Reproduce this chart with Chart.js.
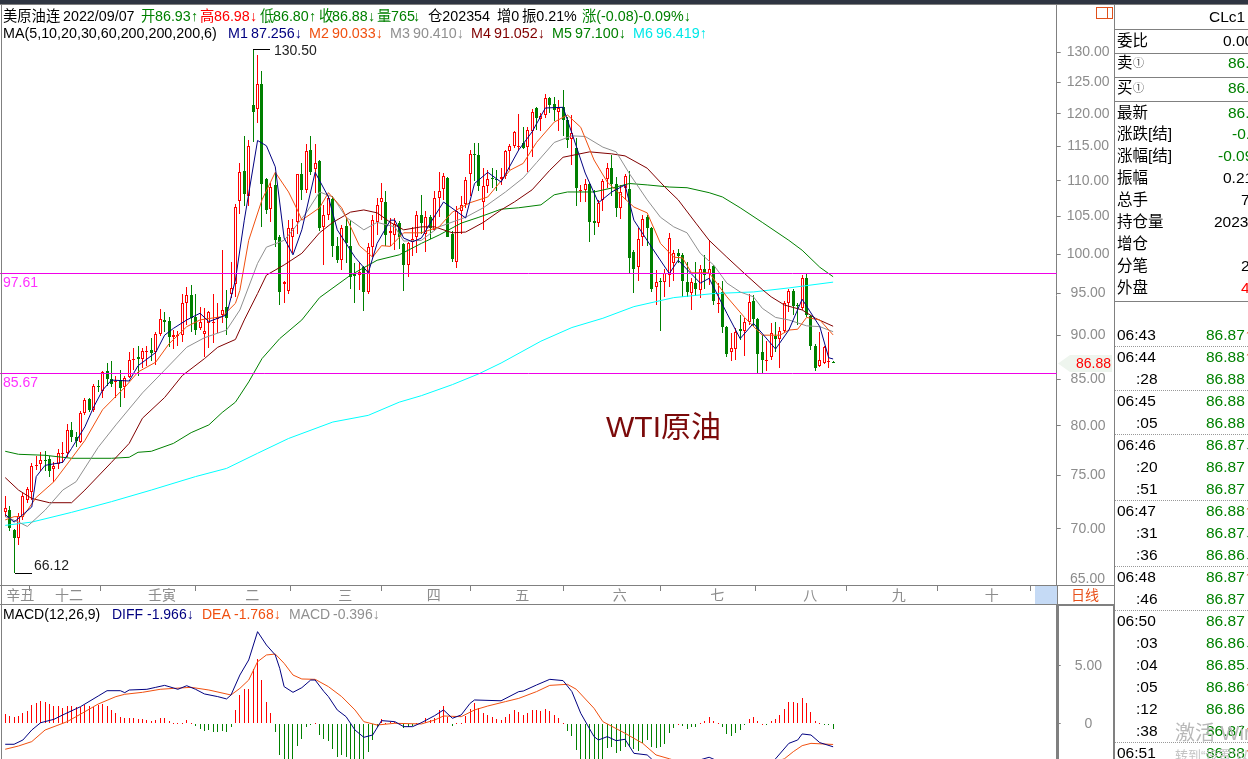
<!DOCTYPE html>
<html>
<head>
<meta charset="utf-8">
<title>WTI原油</title>
<script src="https://cdn.jsdelivr.net/npm/chart.js@4/dist/chart.umd.min.js"></script>
<style>
html,body{margin:0;padding:0;background:#fff;width:1248px;height:759px;overflow:hidden;font-family:"Liberation Sans","Noto Sans CJK SC",sans-serif;}
canvas{position:absolute;left:0;}
#main{top:5px;}
#macd{top:605px;}
.t{position:absolute;white-space:pre;line-height:1;transform:translateY(-50%);}
.r{position:absolute;}
</style>
</head>
<body>
<canvas id="main" width="1114" height="600"></canvas>
<canvas id="macd" width="1114" height="154"></canvas>
<div id="over"></div>
<script>
// 日线 K线,读图估值
const opens = [
71.5,71.7,69.9,69.2,71.1,72.7,73.4,75.9,76.1,76.5,
76.6,75.6,76.1,77.1,77.2,79.6,78.9,78.3,81.3,82.8,
81.7,84.2,83.7,85.9,85.0,84.7,84.9,84.1,85.2,87.2,
87.5,87.3,88.1,88.3,88.0,90.1,91.8,91.7,89.8,89.9,
90.0,93.9,94.8,92.2,90.8,90.1,91.4,91.4,91.9,92.4,
93.4,95.0,96.2,107.2,111.4,107.8,121.3,120.8,124.8,110.3,
106.0,109.4,102.2,96.2,95.3,102.2,104.3,110.9,108.7,114.5,
111.7,112.9,103.6,105.2,107.4,101.1,99.2,103.7,101.1,97.4,
97.3,98.3,95.2,100.9,104.3,107.0,107.0,102.8,102.5,104.1,
101.3,98.6,101.6,102.2,105.2,102.7,105.0,103.2,107.5,108.8,
110.4,102.7,99.0,105.7,106.7,111.0,113.9,113.8,107.0,109.3,
110.4,110.3,110.2,110.7,114.3,115.1,115.0,115.5,114.9,117.4,
120.9,119.2,119.8,122.4,121.5,120.3,121.0,119.0,116.1,114.8,
108.6,108.7,109.5,104.4,104.1,107.3,110.3,111.8,109.6,106.1,
108.9,108.8,100.3,98.3,102.3,105.0,103.4,95.8,96.6,96.4,
97.3,98.8,100.2,99.9,96.4,95.1,96.3,95.5,98.1,97.4,
98.5,93.7,95.2,91.0,88.1,88.4,90.7,90.5,91.6,94.1,
91.9,88.0,87.0,87.5,89.9,89.6,90.5,93.8,95.3,93.6,
93.2,96.9,92.3,88.8,86.5,86.8,86.9,86.93];
const highs = [
73.0,72.1,70.0,71.4,73.3,73.9,76.2,76.9,77.3,77.4,
76.9,76.3,77.6,78.3,80.2,80.4,79.4,81.6,83.0,83.0,
84.5,84.9,85.9,86.8,87.0,85.4,86.0,85.4,88.0,88.5,
88.8,88.5,88.7,89.7,90.4,93.1,92.7,92.2,90.6,90.5,
95.0,95.8,96.0,94.9,93.4,93.2,92.9,94.9,93.8,100.5,
95.4,99.0,106.7,112.5,116.6,115.9,130.5,129.5,126.8,110.4,
109.7,111.3,102.5,96.6,104.5,104.6,111.0,112.5,115.3,116.6,
115.4,113.0,106.6,107.8,107.8,102.2,103.8,105.0,104.5,98.8,
99.0,98.4,101.4,105.2,107.5,109.7,108.5,104.8,104.8,104.4,
101.4,101.6,103.6,105.7,108.0,105.8,105.2,108.6,111.3,111.1,
110.6,103.0,106.5,107.8,110.6,114.5,115.5,115.5,111.8,111.5,
111.8,111.5,111.8,114.5,115.4,117.3,120.0,118.0,118.0,120.8,
121.0,120.1,123.1,122.6,122.7,122.2,123.7,119.5,119.8,116.3,
109.4,110.3,109.7,108.7,107.3,110.3,112.5,113.8,110.6,109.4,
110.9,111.4,100.5,103.4,105.2,105.2,103.6,97.9,96.9,98.1,
102.8,100.5,100.7,100.1,99.0,97.0,99.0,98.6,99.9,101.8,
98.6,96.3,96.6,91.1,90.2,90.8,92.4,92.0,94.9,94.8,
92.0,90.0,89.3,91.4,91.6,91.0,94.1,95.6,95.6,93.8,
97.3,97.6,92.4,89.0,90.4,88.7,90.4,86.98];
const lows = [
71.1,69.8,66.12,68.5,70.8,72.4,72.7,75.5,75.4,75.4,
74.9,74.4,75.6,76.2,76.8,78.3,77.8,78.2,81.1,81.5,
81.5,83.6,83.0,84.3,84.1,82.9,82.0,83.0,85.1,86.0,
85.4,86.3,86.5,87.0,86.6,89.9,90.4,88.6,88.4,88.8,
89.2,91.2,90.4,90.0,90.6,87.5,88.5,89.1,90.3,91.4,
90.0,94.5,94.6,105.4,106.5,106.4,115.6,118.5,103.6,105.4,
104.3,100.9,93.6,93.9,94.9,100.1,102.7,107.3,108.2,110.8,
108.2,103.0,98.6,104.5,99.6,98.8,97.9,98.8,95.6,93.9,
95.4,92.9,95.0,99.6,102.5,104.5,101.1,101.1,100.5,100.7,
95.3,97.1,99.7,100.1,102.7,100.3,102.0,103.0,105.0,107.3,
102.2,99.0,98.2,102.7,106.1,107.8,109.9,108.5,103.2,108.2,
108.9,108.5,109.4,110.2,111.5,114.8,114.5,114.6,111.3,113.5,
117.5,117.3,119.3,120.1,118.8,117.4,116.5,114.8,112.2,106.5,
107.0,107.0,101.6,102.5,103.6,105.7,108.9,107.8,105.0,104.6,
107.3,97.5,95.1,96.6,101.1,101.1,95.2,93.6,90.5,94.6,
95.8,96.6,98.8,94.6,94.6,93.0,94.7,94.4,95.6,96.0,
93.6,92.6,90.2,87.5,87.0,87.1,89.4,87.6,91.2,91.1,
85.7,85.7,85.9,87.1,88.0,86.3,90.2,92.8,92.4,91.2,
93.0,92.1,88.3,85.9,86.4,86.7,86.3,86.80];
const closes = [
71.9,70.1,69.2,71.2,73.0,73.7,75.9,76.0,76.5,76.4,
75.4,75.9,77.2,77.2,79.6,78.9,78.4,81.3,82.7,81.7,
84.2,84.1,85.8,85.0,84.5,84.8,84.0,85.1,87.1,87.3,
87.3,88.2,88.2,87.9,90.1,91.9,91.6,89.8,90.0,90.0,
93.8,94.8,92.0,90.6,91.6,90.5,92.7,91.5,92.2,93.0,
92.0,95.7,106.3,111.3,108.1,115.1,120.3,124.8,109.6,105.9,
109.1,101.9,95.2,96.4,103.5,103.5,110.9,108.7,114.3,111.3,
112.5,103.4,105.2,107.5,101.1,99.2,103.5,101.4,97.1,97.2,
97.7,95.2,100.9,104.5,106.6,107.5,102.5,103.0,104.0,102.3,
98.6,101.5,102.0,105.2,104.1,105.0,103.4,107.5,108.5,110.7,
102.3,99.4,105.7,106.6,110.1,113.9,113.8,109.3,109.3,110.3,
110.3,110.1,110.6,114.4,115.1,117.2,115.1,114.8,117.5,120.3,
119.4,119.7,122.4,121.3,120.6,120.9,119.0,115.9,117.0,108.9,
108.7,109.6,104.3,104.1,106.8,109.9,111.8,109.6,106.1,108.4,
110.7,99.5,98.1,102.0,104.7,103.5,95.6,96.4,96.4,97.6,
102.1,100.2,99.7,96.6,95.2,96.4,95.6,98.1,97.3,98.1,
94.1,93.8,91.0,87.8,88.5,90.4,90.5,91.6,94.0,91.9,
87.8,87.1,87.1,90.2,89.5,90.5,93.8,95.3,93.5,93.5,
96.9,92.4,88.8,86.3,87.2,88.6,87.0,86.88];

// 均线 [K线序号, 价格]
const m1 = [[0,71.3],[2,70.6],[6,72.0],[7,74.9],[9,76.0],[13,76.3],[15,77.7],[18,79.9],[20,82.0],[22,83.8],[24,84.9],[28,84.8],[30,86.5],[34,88.0],[36,90.0],[38,90.8],[41,91.8],[44,92.6],[46,91.6],[50,92.4],[52,96.7],[54,104.5],[57,115.9],[59,115.1],[61,112.0],[63,102.1],[65,99.9],[67,103.2],[70,111.2],[73,107.7],[75,103.2],[79,99.6],[82,97.6],[84,101.4],[87,104.5],[88,104.5],[90,102.1],[92,101.6],[94,102.1],[96,104.1],[99,107.0],[104,104.8],[106,109.6],[109,111.2],[112,109.8],[116,114.5],[119,117.2],[122,120.9],[126,121.0],[128,117.0],[131,111.1],[134,106.9],[137,108.4],[140,109.4],[142,104.5],[146,100.9],[150,97.5],[152,99.2],[157,96.3],[159,96.9],[163,92.6],[166,89.6],[169,91.4],[174,88.4],[177,90.6],[180,94.3],[184,91.0],[186,87.4],[187,87.26]];
const m2 = [[0,70.8],[2,71.1],[4,71.1],[7,72.9],[11,74.4],[15,76.7],[18,78.5],[22,81.7],[27,84.1],[30,85.8],[34,86.9],[37,89.0],[41,91.0],[44,91.8],[49,92.2],[52,93.8],[53,95.4],[55,101.8],[58,107.3],[61,111.2],[64,108.4],[66,105.9],[67,104.5],[71,106.2],[73,108.3],[76,106.2],[80,101.1],[83,99.6],[85,101.1],[87,101.0],[90,102.8],[94,102.8],[98,103.6],[101,105.6],[105,106.9],[109,107.7],[114,111.5],[117,112.5],[120,115.6],[124,118.7],[127,119.8],[130,117.9],[133,113.0],[136,109.8],[139,108.0],[142,106.3],[145,105.5],[148,101.4],[151,99.6],[153,99.5],[155,97.6],[159,97.6],[163,94.6],[167,92.1],[171,90.0],[175,90.0],[177,90.6],[179,90.7],[181,92.1],[184,91.8],[187,90.03]];
const m3 = [[0,71.1],[3,70.6],[5,70.2],[9,71.7],[13,73.6],[16,74.4],[21,77.8],[25,80.1],[31,83.5],[36,86.0],[41,88.6],[45,89.7],[50,90.6],[53,93.0],[57,98.8],[59,100.9],[63,101.8],[65,103.2],[68,105.5],[71,108.4],[74,107.7],[77,104.9],[81,103.2],[84,104.2],[88,103.6],[90,101.7],[94,101.8],[98,103.6],[104,104.9],[108,106.2],[113,108.4],[117,110.4],[120,112.6],[124,115.6],[128,116.6],[131,116.5],[135,114.9],[138,114.2],[141,111.0],[145,107.3],[148,104.9],[151,103.6],[154,102.8],[157,100.1],[160,98.6],[163,96.3],[166,95.2],[169,94.6],[171,93.2],[174,92.1],[177,91.8],[181,91.1],[184,91.0],[187,90.41]];
const m4 = [[0,74.8],[3,73.6],[6,72.8],[10,72.4],[15,72.4],[18,73.6],[24,76.3],[28,78.2],[31,80.8],[36,83.0],[40,85.4],[45,87.3],[48,88.6],[52,89.5],[54,91.8],[57,95.0],[59,97.3],[63,98.6],[67,100.1],[71,102.8],[74,104.2],[78,105.6],[81,105.9],[84,105.5],[87,104.2],[90,103.2],[94,103.6],[97,103.6],[101,102.8],[104,102.9],[108,104.2],[112,105.9],[115,107.0],[119,108.7],[123,111.5],[126,113.4],[132,114.2],[137,113.9],[140,113.6],[145,111.8],[149,109.1],[152,107.3],[156,104.1],[159,101.8],[163,99.6],[167,97.5],[171,95.5],[173,94.6],[176,93.6],[180,93.0],[183,92.0],[187,91.05]];
const m5 = [[0,77.4],[3,77.1],[9,77.0],[15,76.7],[24,76.7],[28,76.8],[30,77.3],[33,77.4],[38,78.2],[42,79.3],[46,80.1],[49,81.4],[52,82.5],[55,84.7],[58,87.3],[62,89.6],[67,91.8],[71,94.5],[78,97.3],[84,99.2],[89,99.9],[94,101.4],[98,102.5],[103,104.1],[107,104.9],[112,106.0],[116,106.2],[121,106.6],[124,108.0],[127,108.4],[133,108.4],[138,109.1],[141,109.6],[145,109.4],[150,109.1],[154,109.0],[159,108.3],[162,107.7],[166,106.2],[171,104.2],[177,101.8],[180,100.5],[184,98.3],[187,97.1]];
const m6 = [[0,70.3],[6,70.6],[15,71.5],[24,72.5],[33,73.6],[43,74.9],[50,75.7],[57,77.2],[64,78.7],[74,80.4],[82,81.1],[89,82.5],[94,83.2],[101,84.4],[107,85.6],[112,86.8],[121,89.3],[128,90.9],[135,92.0],[142,93.4],[151,94.5],[160,95.0],[169,95.2],[177,95.7],[187,96.42]];

// MACD 柱和两条线 [K线序号, 值]
const macdBars = [
.86,.69,.63,.69,.92,1.15,1.64,1.84,1.95,1.9,
1.72,1.55,1.55,1.41,1.55,1.55,1.44,1.49,1.64,1.58,
1.49,1.67,1.72,1.55,1.21,.92,.63,.49,.52,.52,
.46,.4,.34,.23,.34,.52,.52,.26,.06,.03,
.11,.34,.11,-.17,-.4,-.63,-.52,-.66,-.69,-.63,
-.66,-.23,1.21,2.5,3.0,3.05,4.7,5.6,3.8,1.9,
.98,-.69,-2.64,-3.1,-3.1,-3.1,-1.9,-1.3,-.29,-.03,
.11,-.95,-1.3,-1.44,-2.18,-2.82,-2.67,-2.87,-3.1,-3.1,
-3.1,-3.1,-2.39,-1.38,-.23,.4,.11,.17,.2,.02,
-.37,-.29,-.17,.11,.2,.49,.34,.49,1.21,1.55,
.63,-.17,.02,.11,.69,1.26,1.84,1.35,.92,.78,
.63,.43,.34,.57,.86,1.21,1.03,.78,.98,1.21,
1.21,1.12,1.29,1.12,.78,.52,.06,-.57,-1.03,-2.24,
-3.1,-3.1,-3.1,-3.1,-3.1,-3.1,-2.1,-2.0,-2.5,-2.3,
-2.0,-2.0,-2.2,-2.3,-1.6,-1.4,-1.95,-2.1,-1.95,-1.72,
-.75,-.37,0,-.14,-.4,-.23,-.23,.11,.26,.6,
.26,.11,-.23,-.86,-1.03,-.75,-.52,-.06,.43,.6,
.26,0,-.03,.26,.43,.8,1.29,1.9,1.9,1.81,
2.24,1.81,1.03,.26,.03,-.03,-.11,-.396];
const diff = [[0,-1.75],[2,-1.75],[4,-1.38],[6,-.52],[8,.11],[11,.4],[13,.78],[17,1.49],[21,2.41],[23,2.87],[26,2.87],[27,2.7],[28,2.93],[32,2.99],[34,3.16],[36,3.33],[37,3.22],[39,2.99],[41,3.3],[43,2.99],[45,2.59],[48,2.36],[50,2.16],[51,2.5],[53,4.22],[55,5.52],[57,7.96],[59,6.81],[61,5.95],[62,4.8],[63,3.22],[65,2.73],[67,3.13],[69,3.79],[70,3.79],[72,2.79],[73,2.36],[75,1.21],[77,.63],[79,-.52],[81,-1.15],[83,-.95],[85,.29],[88,.2],[90,-.23],[92,-.23],[94,.11],[97,.72],[99,1.21],[101,.49],[103,.78],[105,1.78],[106,2.07],[112,2.0],[116,2.79],[117,2.84],[120,3.36],[123,3.85],[126,3.74],[128,2.79],[130,.92],[133,-1.09],[134,-1.38],[136,-1.09],[138,-1.44],[140,-1.32],[142,-2.53],[145,-2.67],[146,-3.02],[150,-4.0],[153,-3.6],[156,-3.2],[159,-2.87],[161,-3.2],[165,-5.0],[170,-4.5],[174,-3.0],[177,-1.67],[179,-1.38],[180,-.86],[182,-.95],[184,-1.61],[187,-1.966]];
const dea = [[0,-2.18],[3,-1.9],[6,-1.52],[9,-.52],[14,.2],[18,1.06],[21,1.72],[25,2.36],[27,2.56],[31,2.73],[35,2.99],[38,3.07],[42,3.16],[46,2.93],[51,2.5],[53,3.07],[55,3.79],[57,5.37],[59,5.95],[61,6.03],[63,5.23],[65,4.22],[67,3.88],[70,3.85],[73,3.22],[76,2.36],[79,1.21],[81,.2],[84,-.09],[88,.06],[94,0],[97,.34],[99,.69],[103,.63],[106,1.21],[109,1.55],[113,1.93],[116,2.21],[120,2.79],[123,3.33],[127,3.42],[129,2.99],[133,1.35],[135,.2],[140,-.8],[144,-1.67],[147,-2.67],[150,-3.0],[155,-3.6],[165,-4.0],[172,-3.5],[176,-3.0],[178,-2.39],[180,-1.87],[182,-1.67],[187,-1.768]];

const slots = Array.from({length:238},(_,i)=>i);
const monthIdx = [0,11,32,54,75,95,115,137,159,180,200,221];
const monthNames = ['辛丑','十二','壬寅','二','三','四','五','六','七','八','九','十'];
const priceTicks = [130,125,120,115,110,105,100,95,90,85,80,75,70];
const macdTicks = [5,0];
const levels = [97.61,85.67];

const RED = '#ff0000', GREEN = '#008000', AXIS = '#808080', TICKTXT = '#8c8c8c';
const FONT = '"Liberation Sans","Noto Sans CJK SC",sans-serif';

// 柱子对齐到整像素,不然1px的影线会发虚
const snapBars = {
  id:'snapBars',
  afterDatasetsUpdate(chart){
    chart.getSortedVisibleDatasetMetas().forEach(meta=>{
      if(meta.type !== 'bar') return;
      meta.data.forEach(el=>{
        el.x = Math.floor(el.x)+0.5;
        el.y = Math.round(el.y);
        el.base = Math.round(el.base);
        if(el.y === el.base) el.base += 1;
        el.height = Math.abs(el.base-el.y);
      });
    });
  }
};

const levelLines = {
  id:'levelLines',
  afterDatasetsDraw(chart){
    const {ctx,chartArea,scales} = chart;
    ctx.save();
    ctx.strokeStyle = '#f000e8';
    ctx.lineWidth = 1;
    levels.forEach(v=>{
      const y = Math.round(scales.y.getPixelForValue(v))+0.5;
      ctx.beginPath();
      ctx.moveTo(0,y);
      ctx.lineTo(chartArea.right,y);
      ctx.stroke();
    });
    ctx.restore();
  }
};

function maLine(points,color,order){
  return {
    type:'line',
    data:points.map(p=>({x:p[0],y:p[1]})),
    borderColor:color,
    borderWidth:1,
    pointRadius:0,
    tension:0,
    order
  };
}

function yAxis(extra,padding,fmt){
  return Object.assign({
    position:'right',
    // 轴宽固定,刻度文字不许把绘图区往里挤
    afterFit(s){ s.width = 57.3; s.paddingTop = 0; s.paddingBottom = 0; },
    border:{color:AXIS},
    grid:{drawOnChartArea:false,tickLength:4,tickColor:AXIS},
    ticks:{color:TICKTXT,font:{size:14,family:FONT},padding,crossAlign:'center',autoSkip:false,callback:fmt}
  },extra);
}

const base = {
  responsive:false,
  animation:false,
  devicePixelRatio:1,
  events:[],
  layout:{autoPadding:false,padding:{left:3,right:0,top:0,bottom:0}},
  plugins:{legend:{display:false},tooltip:{enabled:false}}
};

new Chart(document.getElementById('main'),{
  type:'bar',
  plugins:[snapBars,levelLines],
  data:{
    labels:slots,
    datasets:[
      maLine(m1,'#000080',1),
      maLine(m2,'#f05010',2),
      maLine(m3,'#909090',3),
      maLine(m4,'#800000',4),
      maLine(m5,'#008000',5),
      maLine(m6,'#00ffff',6),
      {
        data:opens.map((o,i)=>[o,closes[i]]),
        grouped:false,
        barThickness:3,
        borderWidth:1,
        borderSkipped:false,
        inflateAmount:0,
        backgroundColor:opens.map((o,i)=>closes[i]>=o?'#ffffff':GREEN),
        borderColor:opens.map((o,i)=>closes[i]>=o?RED:GREEN),
        order:7
      },
      {
        data:lows.map((l,i)=>[l,highs[i]]),
        grouped:false,
        barThickness:1,
        borderWidth:0,
        inflateAmount:0,
        backgroundColor:opens.map((o,i)=>closes[i]>=o?RED:GREEN),
        order:8
      }
    ]
  },
  options:Object.assign({},base,{
    scales:{
      x:{
        type:'category',
        offset:true,
        afterFit(s){ s.height = 20; s.paddingLeft = 0; s.paddingRight = 0; },
        afterBuildTicks(s){ s.ticks = monthIdx.map(v=>({value:v})); },
        border:{color:AXIS},
        grid:{drawOnChartArea:false,tickLength:6,tickColor:AXIS},
        ticks:{
          color:TICKTXT,
          font:{size:14,family:FONT},
          align:'start',
          labelOffset:1,
          padding:-3,
          autoSkip:false,
          maxRotation:0,
          minRotation:0,
          callback:v=>monthNames[monthIdx.indexOf(v)]
        }
      },
      y:yAxis({
        type:'logarithmic',
        bounds:'data',
        min:65.06,
        max:138.2,
        afterBuildTicks(s){ s.ticks = priceTicks.map(v=>({value:v})); }
      },6,v=>v.toFixed(2))
    }
  })
});

new Chart(document.getElementById('macd'),{
  type:'bar',
  plugins:[snapBars],
  data:{
    labels:slots,
    datasets:[
      maLine(diff,'#000080',1),
      maLine(dea,'#f05010',2),
      {
        data:macdBars,
        grouped:false,
        barThickness:1,
        borderWidth:0,
        inflateAmount:0,
        backgroundColor:macdBars.map(v=>v>=0?RED:GREEN),
        order:3
      }
    ]
  },
  options:Object.assign({},base,{
    scales:{
      x:{type:'category',offset:true,display:false},
      y:yAxis({
        type:'linear',
        min:-3.02,
        max:10.26,
        afterBuildTicks(s){ s.ticks = macdTicks.map(v=>({value:v})); }
      },14,v=>v?v.toFixed(2):'0')
    }
  })
});

// 其余都是看盘软件的外框和文字
const over = document.getElementById('over');
function txt(s,x,y,color,size,extra){
  const d = document.createElement('div');
  d.className = 't';
  d.textContent = s;
  d.style.cssText = `left:${x}px;top:${y}px;color:${color||'#000'};font-size:${size||14}px;${extra||''}`;
  over.appendChild(d);
  return d;
}
function rect(x,y,w,h,bg,extra){
  const d = document.createElement('div');
  d.className = 'r';
  d.style.cssText = `left:${x}px;top:${y}px;width:${w}px;height:${h}px;background:${bg};${extra||''}`;
  over.appendChild(d);
  return d;
}

// 外框
rect(0,0,1248,4,'#2f3542');
rect(0,4,1248,1,AXIS);
rect(1,5,1,754,AXIS);
rect(0,585,1114,1,AXIS);
rect(0,604,1114,1,AXIS);
rect(1035,586,22,18,'#c5daf5');
rect(1057,586,1,19,AXIS);
rect(1114,5,1,754,AXIS);
rect(1057,605,2,154,AXIS);
rect(1057,604,58,2,AXIS);
rect(1113,605,2,154,AXIS);
rect(1096,7,15,10,'#fff','border:1px solid #e0501a;');
rect(1107,7,1,11,'#e0501a');

// 第一行、第二行标题
[['美原油连',3,'#000'],['2022/09/07',63,'#000'],['开',141,GREEN],['86.93',155,GREEN],['↑',191,GREEN],
 ['高',200,RED],['86.98',214,RED],['↓',250,RED],['低',260,GREEN],['86.80',273,GREEN],['↑',309,GREEN],
 ['收',319,GREEN],['86.88',332,GREEN],['↓',368,GREEN],['量',377,GREEN],['765',391,GREEN],['↓',413,GREEN],
 ['仓202354',428,'#000'],['增0',497,'#000'],['振0.21%',522,'#000'],['涨(-0.08)-0.09%↓',582,GREEN]
].forEach(a=>txt(a[0],a[1],16,a[2],14.3));
[['MA(5,10,20,30,60,200,200,200,6)',3,'#000'],['M1',228,'#000080'],['87.256↓',251,'#000080'],
 ['M2',309,'#f05010'],['90.033↓',332,'#f05010'],['M3',390,'#909090'],['90.410↓',413,'#909090'],
 ['M4',471,'#800000'],['91.052↓',494,'#800000'],['M5',552,GREEN],['97.100↓',575,GREEN],
 ['M6',633,'#00e8e8'],['96.419↑',656,'#00e8e8']
].forEach(a=>txt(a[0],a[1],33,a[2],14.3));

// 图内标注
rect(253,49,17,1,'#000');
txt('130.50',274,50,'#222');
rect(15,573,17,1,'#000');
txt('66.12',34,565,'#222');
txt('97.61',3,282,'#ff30ff');
txt('85.67',3,382,'#ff30ff');
txt('WTI原油',606,427,'#7b0a0a',30);
txt('65.00',1070,578,TICKTXT);
rect(1058,355,54,17,'#eef5ee','clip-path:polygon(0 50%,12px 0,100% 0,100% 100%,12px 100%);');
txt('86.88',1076,363,RED);
txt('日线',1071,595,'#e8501a');

// MACD 标题
[['MACD(12,26,9)',3,'#000'],['DIFF',112,'#000080'],['-1.966↓',147,'#000080'],['DEA',202,'#f05010'],
 ['-1.768↓',234,'#f05010'],['MACD',289,'#909090'],['-0.396↓',333,'#909090']
].forEach(a=>txt(a[0],a[1],614,a[2]));

// 右侧报价栏
const PS = 15.5;
txt('CLc1',1209,17,'#000',PS);
[29,53,77,101,301].forEach(y=>rect(1115,y,133,1,AXIS));
[['委比',41,'0.00%',1223,'#000'],['卖',63,'86.88',1228,GREEN],['买',88,'86.87',1228,GREEN],['最新',113,'86.88',1228,GREEN],
 ['涨跌[结]',134,'-0.08',1232,GREEN],['涨幅[结]',156,'-0.09%',1218,GREEN],['振幅',178,'0.21%',1223,'#000'],
 ['总手',200,'765',1241,'#000'],['持仓量',222,'202354',1214,'#000'],['增仓',244,'',1241,'#000'],
 ['分笔',266,'2',1241,'#000'],['外盘',288,'400',1241,RED]
].forEach(a=>{
  txt(a[0],1117,a[1],'#000',PS);
  if(a[2]) txt(a[2],a[3],a[1],a[4],PS);
});
txt('①',1133,63,'#444',11);
txt('①',1133,88,'#444',11);

const tradeTimes = ['06:43','06:44',':28','06:45',':05','06:46',':20',':51','06:47',':31',':36','06:48',':46','06:50',':03',':04',':05',':12',':38','06:51'];
const tradePrices = [86.87,86.88,86.88,86.88,86.88,86.87,86.87,86.87,86.88,86.87,86.86,86.87,86.87,86.87,86.86,86.85,86.86,86.86,86.87,86.88];
tradeTimes.forEach((t,i)=>{
  const y = 335+22*i;
  const isMin = t.length === 5;
  if(isMin && i>0) rect(1115,y-11,133,0,'none','border-top:1px dotted #999;');
  txt(t,isMin?1117:1136,y,'#000',PS);
  txt(tradePrices[i].toFixed(2),1206,y,GREEN,PS);
  const prev = i?tradePrices[i-1]:86.86;
  if(tradePrices[i]>prev) txt('↑',1245,y,'#e8501a',PS);
  if(tradePrices[i]<prev) txt('↓',1245,y,GREEN,PS);
});

// 系统水印
txt('激活 Windows',1175,733,'#b8b8b8',20);
txt('转到“设置”以激活 Windows。',1175,755,'#c4c4c4',13);
</script>
</body>
</html>
